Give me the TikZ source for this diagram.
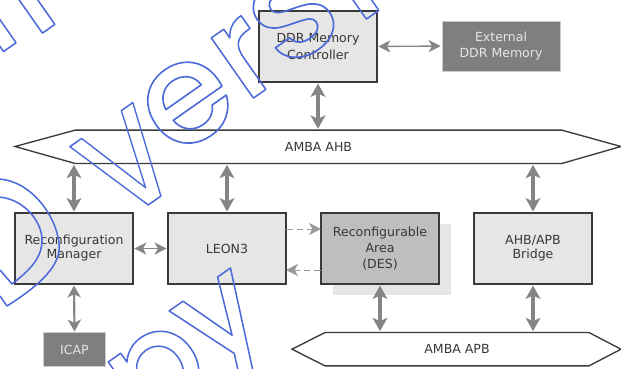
\documentclass[tikz,border=0pt]{standalone}
\usepackage{fontspec}
\setmainfont{DejaVu Sans}
\newfontfamily\wmfont{Poppins Medium}
\usetikzlibrary{arrows.meta}
\definecolor{boxfill}{HTML}{E6E6E6}
\definecolor{desfill}{HTML}{BEBEBE}
\definecolor{darkfill}{HTML}{7F7F7F}
\definecolor{edge}{HTML}{3A3A3A}
\definecolor{arrowgray}{HTML}{858585}
\definecolor{wmblue}{rgb}{0.30,0.42,0.85}
\newcommand{\wm}[1]{\special{pdf:code 1 Tr 1.15 w 1 j 0.30 0.42 0.85 RG}#1\special{pdf:code 0 Tr 0 G}}
\tikzset{
  x=0.75pt,y=-0.75pt,
  px/.style={font=\fontsize{9.4pt}{12.2pt}\selectfont,align=center,text=black!78,inner sep=0pt,outer sep=0pt},
  block/.style={px,draw=edge,line width=1.1pt,fill=boxfill,minimum width=88.5pt,minimum height=53.5pt},
  darkblock/.style={px,draw=black!20,line width=0.7pt,fill=darkfill,text=black!10},
  bus/.style={draw=edge,line width=1.0pt,fill=white},
  buslabel/.style={px,minimum height=25pt},
  bigarrow/.style={draw=arrowgray,line width=2.6pt,{Stealth[length=10pt,width=11pt,inset=2.5pt]}-{Stealth[length=10pt,width=11pt,inset=2.5pt]},shorten <=1pt,shorten >=1pt},
  midarrow/.style={draw=arrowgray,line width=1.6pt,{Stealth[length=9pt,width=10pt,inset=2.5pt]}-{Stealth[length=9pt,width=10pt,inset=2.5pt]},shorten <=1pt,shorten >=1pt},
  thinarrow/.style={draw=arrowgray,line width=1pt,{Stealth[length=9pt,width=9pt,inset=2.5pt]}-{Stealth[length=9pt,width=9pt,inset=2.5pt]},shorten <=1pt,shorten >=1pt},
  dasharrow/.style={draw=black!40,line width=0.7pt,dash pattern=on 5pt off 3pt,-{Stealth[length=9pt,width=9pt,inset=2.5pt]}},
  wmtext/.style={rotate=35,anchor=base west,inner sep=0pt,font=\wmfont\fontsize{100pt}{100pt}\selectfont},
  wmline/.style={draw=wmblue,line width=1.15pt,line join=round}
}
\begin{document}
\begin{tikzpicture}
\useasboundingbox (0,0) rectangle (621,368);
\clip (0,0) rectangle (621,368);
% blocks
\fill[boxfill] (333,224) rectangle (451,295);
\node[block] (ddr) at (318,46.5) {DDR Memory\\Controller};
\node[darkblock,minimum width=88.5pt,minimum height=37.5pt] (ext) at (501,46) {External\\DDR Memory};
\node[block] (rm) at (74,248.5) {\raisebox{-2pt}{\begin{tabular}{@{}c@{}}Reconfiguration\\[-1.5pt]Manager\end{tabular}}};
\node[block] (leon) at (227,248.5) {LEON3};
\node[block,fill=desfill] (des) at (380,248.5) {Reconfigurable\\Area\\(DES)};
\node[block] (bridge) at (533,248.5) {\raisebox{-2pt}{\begin{tabular}{@{}c@{}}AHB/APB\\[-1.5pt]Bridge\end{tabular}}};
\node[darkblock,minimum width=46.5pt,minimum height=25pt] (icap) at (74.5,349.5) {ICAP};
% buses
\node[buslabel,minimum width=365pt] (ahb) at (318.5,146.8) {};
\node[buslabel,minimum width=198pt] (apb) at (457,349.2) {};
\coordinate (ahbl) at (15,146.5);
\coordinate (ahbr) at (621,146.5);
\coordinate (apbl) at (292,349.2);
\coordinate (apbr) at (621,349.2);
\draw[bus] (ahbl) -- (ahb.north west) -- (ahb.north east) -- (ahbr) -- (ahb.south east) -- (ahb.south west) -- cycle;
\draw[bus] (apbl) -- (apb.north west) -- (apb.north east) -- (apbr) -- (apb.south east) -- (apb.south west) -- cycle;
\node[px] (ahbt) at (ahb) {AMBA AHB};
\node[px] (apbt) at (apb) {AMBA APB};
% connectors
\draw[bigarrow] (ddr.south) -- (ddr.south |- ahb.north);
\draw[thinarrow] (ddr.east) -- (ext.west);
\draw[bigarrow] (rm.north) -- (rm.north |- ahb.south);
\draw[bigarrow] (leon.north) -- (leon.north |- ahb.south);
\draw[bigarrow] (bridge.north) -- (bridge.north |- ahb.south);
\draw[thinarrow,line width=1.3pt] (rm.east) -- (leon.west);
\draw[midarrow] (rm.south) -- (icap.north);
\draw[bigarrow] (des.south) -- (des.south |- apb.north);
\draw[bigarrow] (bridge.south) -- (bridge.south |- apb.north);
\coordinate (lu) at (leon.east |- 0,229);
\coordinate (ll) at (leon.east |- 0,270);
\coordinate (du) at (des.west |- 0,229);
\coordinate (dl) at (des.west |- 0,270);
\draw[dasharrow] (lu) -- (du);
\draw[dasharrow] (dl) -- (ll);
% watermark
\node[wmtext] (wmV) at (121,224) {\wm{\scalebox{.88}[1]{V}}};
\node[wmtext] (wme) at (174,160) {\wm{\scalebox{1.06}{e}}};
\node[wmtext] (wmr) at (245,104) {\wm{r}};
\node[wmtext] (wms) at (284,72) {\wm{\scalebox{1.1}{s}}};
\node[wmtext] (wmi) at (358,25) {\wm{i}};
\node[wmtext] (wmy) at (210,372) {\wm{y}};
\node[wmtext] (wmp) at (142,428) {\wm{p}};
\node[wmtext] (wma) at (-50,89) {\wm{a}};
\node[wmtext] (wml) at (34,39) {\wm{l}};
\draw[wmline] (0,296) -- (7,306) .. controls (40,285) and (62,265) .. (59,243) .. controls (56,215) and (30,180) .. (-2,179);
\draw[wmline] (0,270) -- (12,284) .. controls (30,270) and (42,258) .. (42,240) .. controls (42,220) and (22,198) .. (-2,197);
\end{tikzpicture}
\end{document}
